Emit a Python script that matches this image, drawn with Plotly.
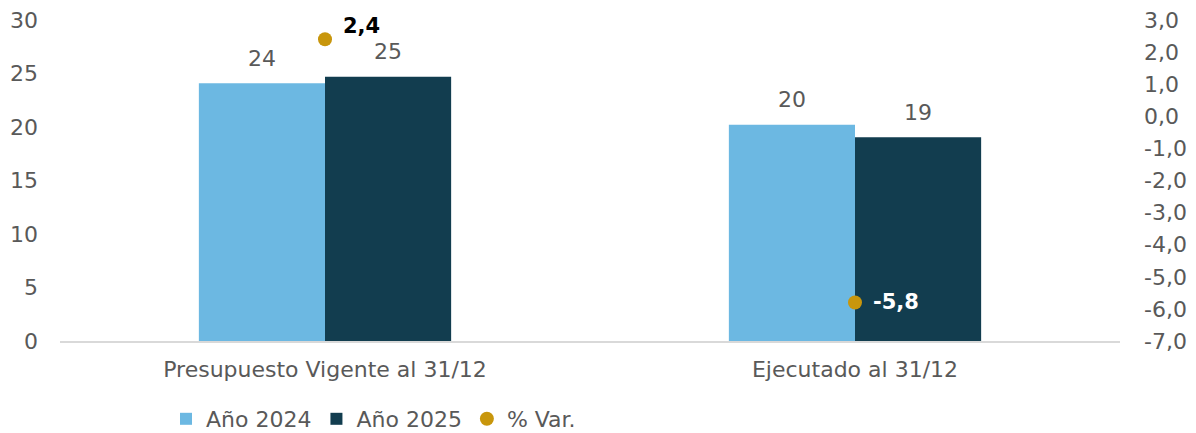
import plotly.graph_objects as go

categories = ["Presupuesto Vigente al 31/12", "Ejecutado al 31/12"]
anio_2024 = [24.1, 20.2]
anio_2025 = [24.7, 19.05]
var_pct = [2.4, -5.8]
series_names = ["Año 2024", "Año 2025", "% Var."]
left_ticks = [0, 5, 10, 15, 20, 25, 30]
right_ticks = [-7, -6, -5, -4, -3, -2, -1, 0, 1, 2, 3]

C_LIGHT = "#6CB8E2"
C_DARK = "#123D4F"
C_GOLD = "#C8960C"
TXT = "#595959"
FONT = "DejaVu Sans"
FS = 22


def fmt(v):
    return f"{v:.1f}".replace(".", ",")


fig = go.Figure()
fig.add_trace(go.Bar(x=categories, y=anio_2024, name=series_names[0],
                     marker=dict(color=C_LIGHT, line=dict(width=0))))
fig.add_trace(go.Bar(x=categories, y=anio_2025, name=series_names[1],
                     marker=dict(color=C_DARK, line=dict(width=0))))
fig.add_trace(go.Scatter(x=categories, y=var_pct, name=series_names[2], yaxis="y2",
                         mode="markers", marker=dict(color=C_GOLD, size=14)))

annotations = []
bar_w = 126
for series, shift in ((anio_2024, -bar_w / 2), (anio_2025, bar_w / 2)):
    for c, v in zip(categories, series):
        annotations.append(dict(x=c, y=v, xref="x", yref="y", text=f"{round(v)}",
                                showarrow=False, xshift=shift, yshift=25,
                                font=dict(family=FONT, size=FS, color=TXT)))
for c, v in zip(categories, var_pct):
    col = "#000000" if v >= 0 else "#FFFFFF"
    annotations.append(dict(x=c, y=v, xref="x", yref="y2",
                            text="<b>" + fmt(v) + "</b>",
                            showarrow=False, xanchor="left", xshift=16,
                            yshift=13 if v >= 0 else 0,
                            font=dict(family=FONT, size=FS - 1, color=col)))

fig.update_layout(
    width=1188, height=425,
    margin=dict(l=52, r=76, t=12, b=92, autoexpand=False),
    paper_bgcolor="white", plot_bgcolor="white",
    barmode="group", bargap=0.524, bargroupgap=0,
    font=dict(family=FONT, size=FS, color=TXT),
    xaxis=dict(showgrid=False, showline=True, linecolor="#D9D9D9", linewidth=1.5,
               ticks="", tickfont=dict(size=FS, color=TXT), range=[-0.5, 1.5],
               ticklabelstandoff=8),
    yaxis=dict(range=[0, 30], tickvals=left_ticks, ticktext=[str(t) for t in left_ticks],
               showgrid=False, zeroline=False, showline=False, ticklabeloverflow="allow",
               tickfont=dict(size=FS, color=TXT), ticklabelstandoff=21),
    yaxis2=dict(range=[-7, 3], tickvals=right_ticks, ticktext=[fmt(t) for t in right_ticks],
                overlaying="y", side="right", ticklabeloverflow="allow",
                showgrid=False, zeroline=False, showline=False,
                tickfont=dict(size=FS, color=TXT), ticklabelstandoff=23),
    legend=dict(orientation="h", x=0.1, xanchor="left", y=-0.243, yanchor="middle",
                font=dict(size=FS, color=TXT), itemwidth=30, tracegroupgap=0),
    annotations=annotations,
    showlegend=True,
)

fig.write_html("out.html")
